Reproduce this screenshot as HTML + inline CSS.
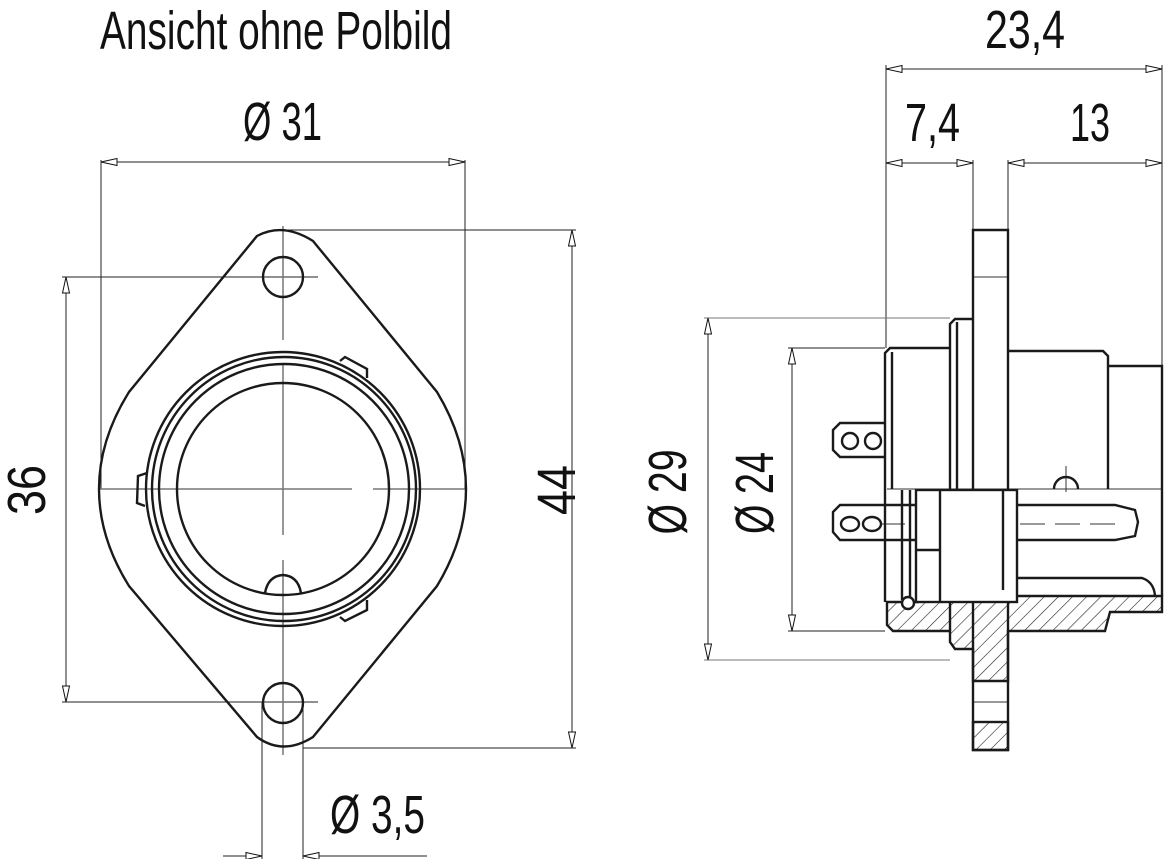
<!DOCTYPE html>
<html><head><meta charset="utf-8"><style>
html,body{margin:0;padding:0;background:#fff;}
svg{display:block;}
text{font-family:"Liberation Sans",sans-serif;font-size:54px;fill:#111;}
</style></head><body>
<svg width="1165" height="859" viewBox="0 0 1165 859" xmlns="http://www.w3.org/2000/svg">
<defs>
<marker id="a" markerUnits="userSpaceOnUse" orient="auto-start-reverse" refX="0" refY="0" markerWidth="20" markerHeight="10" overflow="visible">
<path d="M0,0 L-16,-3.5 L-16,3.5 Z" fill="#fff" stroke="#111" stroke-width="1"/>
</marker>
<pattern id="h" patternUnits="userSpaceOnUse" width="10" height="10" patternTransform="rotate(45)">
<rect width="10" height="10" fill="#fff"/><line x1="0" y1="0" x2="0" y2="10" stroke="#222" stroke-width="1.2"/>
</pattern>
</defs>

<text x="100" y="49" textLength="352" lengthAdjust="spacingAndGlyphs">Ansicht ohne Polbild</text>
<text x="243" y="140" textLength="79" lengthAdjust="spacingAndGlyphs">Ø 31</text>
<text x="985" y="48" textLength="80" lengthAdjust="spacingAndGlyphs">23,4</text>
<text x="905" y="141" textLength="55" lengthAdjust="spacingAndGlyphs">7,4</text>
<text x="1070" y="141" textLength="40" lengthAdjust="spacingAndGlyphs">13</text>
<text x="330" y="833" textLength="95" lengthAdjust="spacingAndGlyphs">Ø 3,5</text>
<text transform="translate(45,490) rotate(-90)" text-anchor="middle" textLength="50" lengthAdjust="spacingAndGlyphs">36</text>
<text transform="translate(575,490) rotate(-90)" text-anchor="middle" textLength="50" lengthAdjust="spacingAndGlyphs">44</text>
<text transform="translate(686,492) rotate(-90)" text-anchor="middle" textLength="85" lengthAdjust="spacingAndGlyphs">Ø 29</text>
<text transform="translate(773,493) rotate(-90)" text-anchor="middle" textLength="82" lengthAdjust="spacingAndGlyphs">Ø 24</text>

<g stroke="#222" stroke-width="1" fill="none">
<line x1="101" y1="160" x2="101" y2="489"/>
<line x1="465" y1="160" x2="465" y2="489"/>
<line x1="101" y1="162" x2="465" y2="162" marker-start="url(#a)" marker-end="url(#a)"/>
<line x1="62" y1="277" x2="318" y2="277"/>
<line x1="62" y1="702" x2="318" y2="702"/>
<line x1="66" y1="277" x2="66" y2="702" marker-start="url(#a)" marker-end="url(#a)"/>
<line x1="283" y1="230" x2="576" y2="230"/>
<line x1="303" y1="748" x2="576" y2="748"/>
<line x1="572" y1="230" x2="572" y2="748" marker-start="url(#a)" marker-end="url(#a)"/>
<line x1="262" y1="702" x2="262" y2="859"/>
<line x1="303" y1="702" x2="303" y2="859"/>
<line x1="223" y1="856" x2="262" y2="856" marker-end="url(#a)"/>
<line x1="303" y1="856" x2="427" y2="856" marker-start="url(#a)"/>
<line x1="886" y1="65" x2="886" y2="348"/>
<line x1="1162" y1="65" x2="1162" y2="366"/>
<line x1="886" y1="69" x2="1162" y2="69" marker-start="url(#a)" marker-end="url(#a)"/>
<line x1="973" y1="160" x2="973" y2="230"/>
<line x1="1008" y1="160" x2="1008" y2="230"/>
<line x1="886" y1="163" x2="973" y2="163" marker-start="url(#a)" marker-end="url(#a)"/>
<line x1="1008" y1="163" x2="1162" y2="163" marker-start="url(#a)" marker-end="url(#a)"/>
<line x1="704" y1="318" x2="950" y2="318" stroke="#777"/>
<line x1="704" y1="660" x2="950" y2="660" stroke="#777"/>
<line x1="708" y1="318" x2="708" y2="660" marker-start="url(#a)" marker-end="url(#a)"/>
<line x1="788" y1="348" x2="885" y2="348"/>
<line x1="788" y1="631" x2="885" y2="631"/>
<line x1="792" y1="348" x2="792" y2="631" marker-start="url(#a)" marker-end="url(#a)"/>
</g>

<g stroke="#777" stroke-width="1.5" fill="none">
<line x1="283" y1="226" x2="283" y2="340"/>
<line x1="283" y1="365" x2="283" y2="535"/>
<line x1="283" y1="560" x2="283" y2="755"/>
<line x1="99" y1="489" x2="352" y2="489"/>
<line x1="373" y1="489" x2="466" y2="489"/>
</g>
<g stroke="#1a1a1a" stroke-width="2.4" fill="none">
<path d="M257,236 Q283,222 313,241 L437,392 Q466,440 466,489 Q466,538 437,586 L313,737 Q283,756 257,737 L129,586 Q99,538 99,489 Q99,440 129,392 Z"/>
<circle cx="283" cy="277" r="20"/>
<circle cx="283" cy="703" r="20"/>
<circle cx="283" cy="489" r="137"/>
<circle cx="284" cy="489" r="132"/>
<circle cx="284" cy="489" r="125"/>
<circle cx="283" cy="489" r="106"/>
<path d="M340,361 L345,357 L367,369 L367,378"/>
<path d="M340,617 L345,621 L367,610 L367,600"/>
<path d="M147,473 L138,476 L137,503 L145,506"/>
<path d="M265,593 Q268,576 283,575 Q298,576 301,593"/>
</g>

<g stroke="#1a1a1a" stroke-width="2.4">
<path d="M887,602 L917,602 L917,596 L1162,596 L1162,612 L1110,612 L1105,631 L1008,631 L1008,681 L973,681 L973,649 L955,649 L950,642 L950,631 L893,631 L887,625 Z" fill="url(#h)"/>
<rect x="973" y="722" width="35" height="28" fill="url(#h)"/>
</g>
<g stroke="#333" stroke-width="1" fill="none">
<line x1="887" y1="489" x2="1162" y2="489"/>
<line x1="973" y1="277" x2="1008" y2="277"/>
<line x1="973" y1="702" x2="1008" y2="702"/>
<line x1="1066" y1="466" x2="1066" y2="492"/>
<line x1="880" y1="524" x2="1120" y2="524" stroke-dasharray="25 10"/>
</g>
<g stroke="#1a1a1a" stroke-width="2.4" fill="none">
<path d="M973,230 L1008,230 L1008,750 L973,750 Z"/>
<path d="M885,602 L885,353 L890,348 L950,348"/>
<line x1="892" y1="352" x2="892" y2="489"/>
<path d="M950,631 L950,324 L955,319 L973,319"/>
<line x1="957" y1="322" x2="957" y2="489"/>
<path d="M1008,351 L1103,351 L1108,356 L1108,489"/>
<path d="M1108,366 L1162,366 L1162,596"/>
<path d="M885,457 L840,457 L833,450 L833,430 L840,423 L885,423"/>
<circle cx="850" cy="441" r="8"/>
<circle cx="873" cy="441" r="8"/>
<path d="M915,540 L840,540 L833,532 L833,512 L840,505 L915,505"/>
<path d="M1017,505 L1115,505 L1135,510 L1138,522 L1135,536 L1115,540 L1017,540"/>
<ellipse cx="850" cy="524" rx="9" ry="7"/>
<ellipse cx="872" cy="524" rx="9" ry="7"/>
<line x1="902" y1="490" x2="902" y2="600"/>
<line x1="910" y1="490" x2="910" y2="600"/>
<rect x="916" y="490" width="101" height="112" fill="#fff"/>
<line x1="940" y1="490" x2="940" y2="602"/>
<line x1="1003" y1="490" x2="1003" y2="590"/>
<line x1="916" y1="550" x2="940" y2="550"/>
<circle cx="908" cy="603" r="6" fill="#fff"/>
<path d="M1017,578 L1142,578 Q1154,582 1155,596"/>
<path d="M1054,489 A12,12 0 0 1 1078,489"/>
</g>
</svg>
</body></html>
